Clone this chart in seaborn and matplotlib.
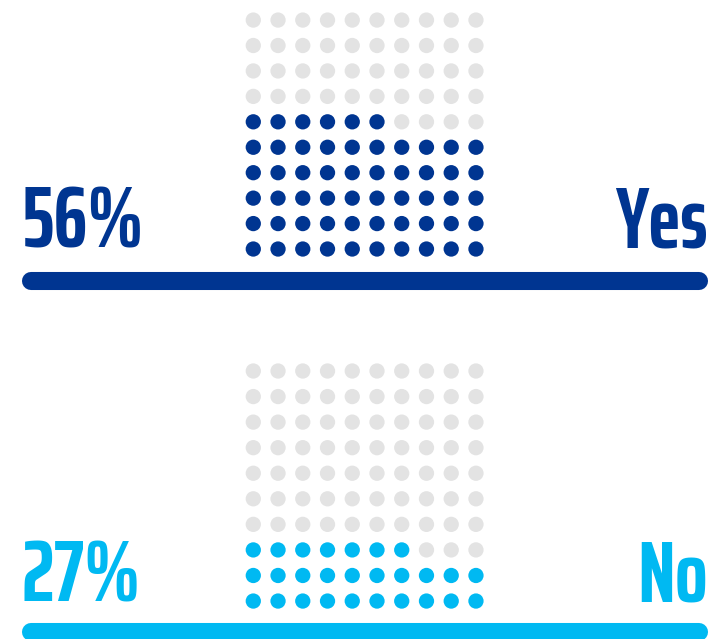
import pandas as pd
import seaborn as sns
import matplotlib.pyplot as plt

# dados
labels = ["Yes", "No"]
percents = [56, 27]
n_cols = 10
n_rows = 10

dark_blue = "#003591"
light_blue = "#00b9f2"
empty_grey = "#e3e3e3"
colors = [dark_blue, light_blue]

sns.set_theme(style="white")
plt.rcParams['font.family'] = ['Saira ExtraCondensed', 'DejaVu Sans']

fig = plt.figure(figsize=(7.13, 6.39), dpi=100)

# fundo em coordenadas de pixel para textos e linhas
bg = fig.add_axes([0, 0, 1, 1])
bg.set_xlim(0, 713)
bg.set_ylim(639, 0)
bg.axis('off')

# posição de cada waffle (fração da figura)
waffle_pos = [[0.3379, 0.5904, 0.3470, 0.3981],
              [0.3379, 0.0394, 0.3470, 0.4000]]
baselines = [248, 601]
line_y = [281, 632]

for i in range(len(labels)):
    # grade 10x10, preenchida de baixo para cima, da esquerda para a direita
    cells = pd.DataFrame({'idx': range(n_cols * n_rows)})
    cells['row'] = cells['idx'] // n_cols
    cells['col'] = cells['idx'] % n_cols
    cells['filled'] = cells['idx'] < percents[i]

    ax = fig.add_axes(waffle_pos[i])
    sns.scatterplot(data=cells, x='col', y='row', hue='filled',
                    palette={True: colors[i], False: empty_grey},
                    s=121, linewidth=0, legend=False, ax=ax)
    ax.set_xlim(-0.5, n_cols - 0.5)
    ax.set_ylim(-0.5, n_rows - 0.5)
    ax.axis('off')

    bg.text(22, baselines[i], f"{percents[i]}%", color=colors[i],
            fontsize=62, fontweight='bold', ha='left', va='baseline')
    bg.text(708, baselines[i], labels[i], color=colors[i],
            fontsize=62, fontweight='bold', ha='right', va='baseline')
    bg.plot([31, 699], [line_y[i], line_y[i]], color=colors[i],
            linewidth=13, solid_capstyle='round')

fig.savefig('out.png', dpi=100)
